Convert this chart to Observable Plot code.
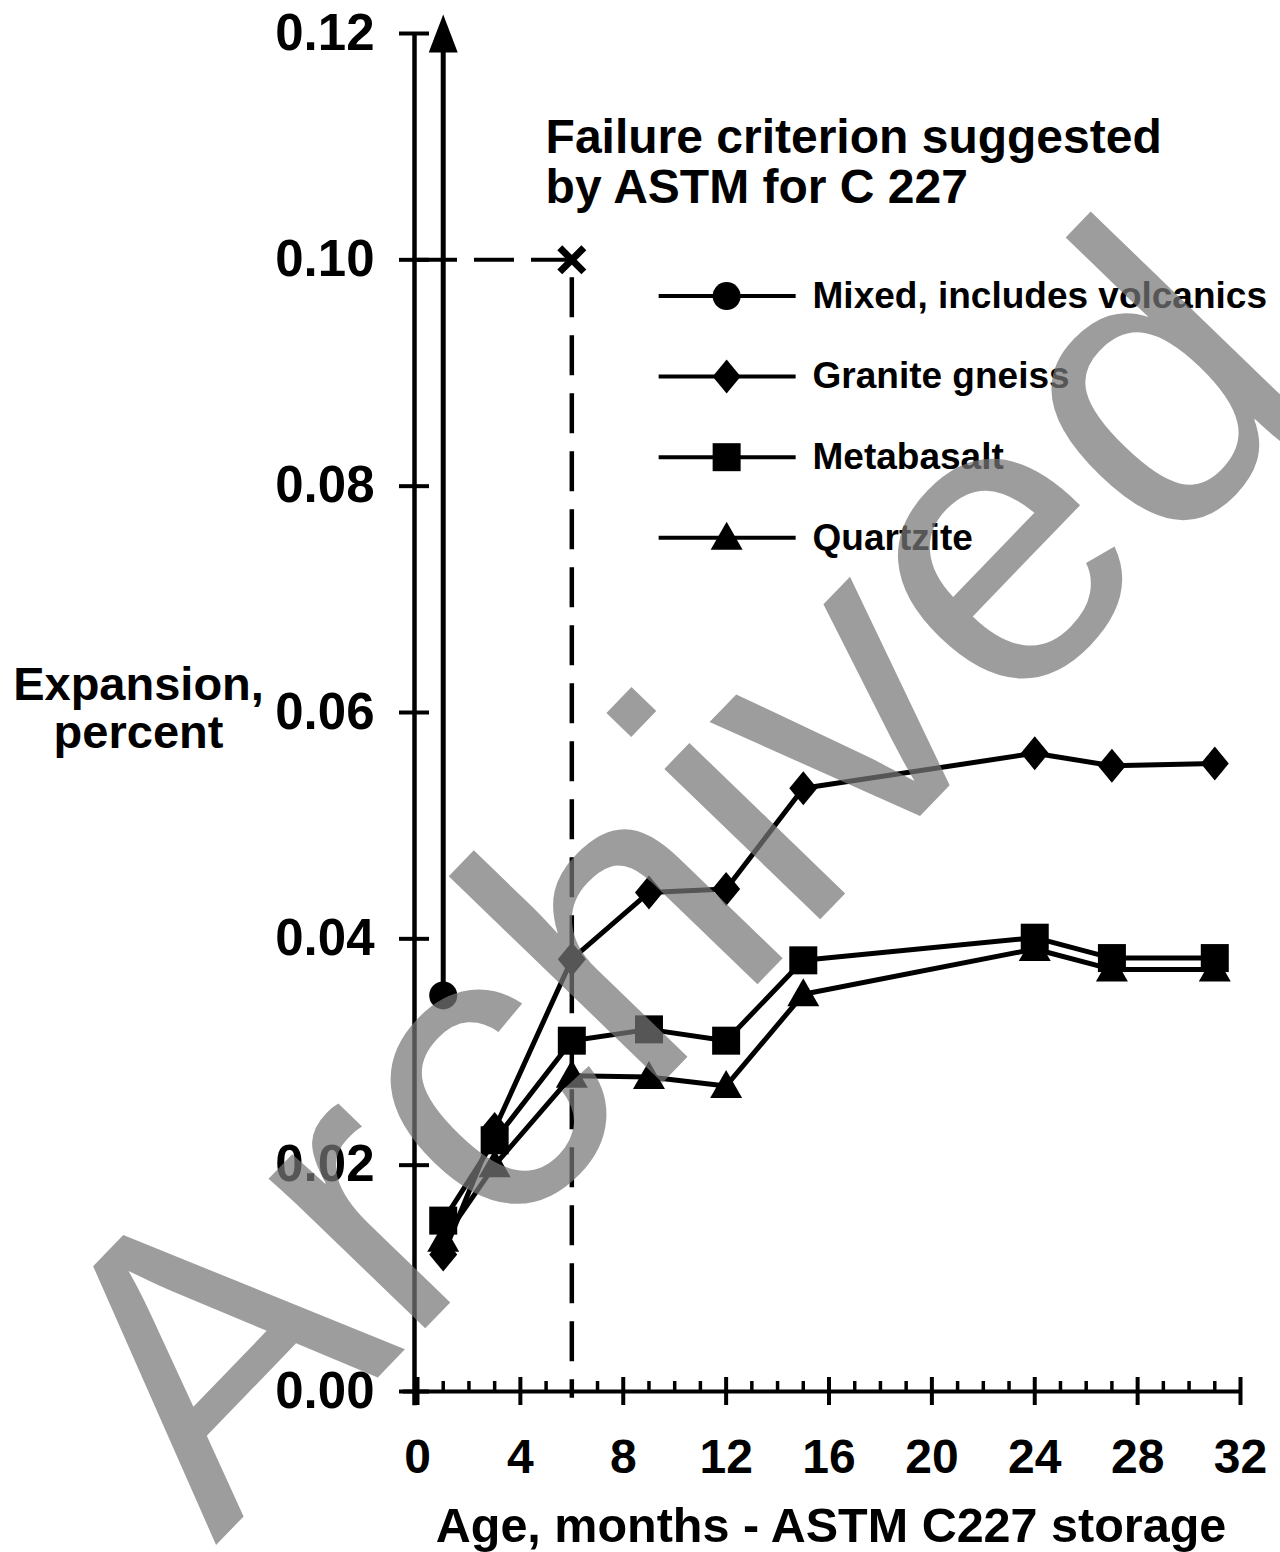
<!DOCTYPE html>
<html>
<head>
<meta charset="utf-8">
<script src="https://cdn.jsdelivr.net/npm/d3@7"></script>
<script src="https://cdn.jsdelivr.net/npm/@observablehq/plot@0.6"></script>
<style>
html, body { margin: 0; padding: 0; background: #fff; }
#chart { width: 1280px; height: 1552px; overflow: hidden; }
</style>
</head>
<body>
<div id="chart"></div>
<script>
// ---------- data ----------
const months = [1, 3, 6, 9, 12, 15, 24, 27, 31];
const graniteGneiss = [0.0121, 0.0232, 0.0382, 0.0441, 0.0444, 0.0533, 0.0564, 0.0553, 0.0555];
const metabasalt    = [0.0151, 0.0222, 0.0310, 0.0320, 0.0310, 0.0381, 0.0401, 0.0383, 0.0383];
const quartzite     = [0.0134, 0.0200, 0.0279, 0.0278, 0.0270, 0.0351, 0.0391, 0.0373, 0.0373];
const mixedMonths = [1];
const mixedVolcanics = [0.035];
const mixedArrowTop = [0.12];

const seriesNames = ["Mixed, includes volcanics", "Granite gneiss", "Metabasalt", "Quartzite"];

const xMajorTicks = [0, 4, 8, 12, 16, 20, 24, 28, 32];
const xMinorTicks = d3.range(0, 33).filter(d => d % 4 !== 0);
const yTicks = [0, 0.02, 0.04, 0.06, 0.08, 0.10, 0.12];

const failureLevel = [0.10];
const failureMonth = [6];
const annotationLines = ["Failure criterion suggested", "by ASTM for C 227"];
const yTitleLines = ["Expansion,", "percent"];
const xTitle = "Age, months - ASTM C227 storage";
const watermark = "Archived";

// ---------- tables built from the arrays ----------
const rows = [];
months.forEach((m, i) => {
  rows.push({series: seriesNames[1], month: m, value: graniteGneiss[i]});
  rows.push({series: seriesNames[2], month: m, value: metabasalt[i]});
  rows.push({series: seriesNames[3], month: m, value: quartzite[i]});
});
const mixedRows = mixedMonths.map((m, i) => ({series: seriesNames[0], month: m, value: mixedVolcanics[i], top: mixedArrowTop[i]}));
const failure = failureMonth.map((m, i) => ({month: m, level: failureLevel[i]}));

// ---------- marker shapes (style) ----------
const diamondSym = {draw(c) { c.moveTo(0, -17); c.lineTo(14, 0); c.lineTo(0, 17); c.lineTo(-14, 0); c.closePath(); }};
const squareSym = {draw(c) { c.moveTo(-14, -14); c.lineTo(14, -14); c.lineTo(14, 14); c.lineTo(-14, 14); c.closePath(); }};
const triangleSym = {draw(c) { c.moveTo(0, -16); c.lineTo(16, 12); c.lineTo(-16, 12); c.closePath(); }};
const arrowHeadSym = {draw(c) { c.moveTo(0, -19); c.lineTo(14.5, 19); c.lineTo(-14.5, 19); c.closePath(); }};
const legendLineSym = {draw(c) { c.moveTo(-68, 0); c.lineTo(69, 0); }};

const symbolOf = {
  [seriesNames[0]]: {symbol: "circle", r: 14},
  [seriesNames[1]]: {symbol: diamondSym, r: 14},
  [seriesNames[2]]: {symbol: squareSym, r: 14},
  [seriesNames[3]]: {symbol: triangleSym, r: 14}
};

// legend layout (in chart units)
const legendLayout = {markerX: 12.02, textX: 15.36, top: 0.0968, step: 0.00712};
const legendRows = seriesNames.map((s, i) => ({series: s, ly: legendLayout.top - i * legendLayout.step}));

const font = "'Liberation Sans', Arial, Helvetica, sans-serif";

const marks = [
  // axes lines
  Plot.ruleY([0], {x1: -0.55, x2: 32, strokeWidth: 4}),
  Plot.ruleX([0], {y1: -0.00125, y2: 0.12, strokeWidth: 4.5, dx: -3}),
  Plot.axisY(yTicks, {tickSize: 30, dx: 12, tickPadding: 25, tickFormat: d3.format(".2f"),
    fontSize: 51, fontWeight: "bold", strokeWidth: 4, label: null}),
  Plot.axisX(xMajorTicks, {tickSize: 28, dy: -14, tickPadding: 33, fontSize: 48, fontWeight: "bold",
    strokeWidth: 4, label: null}),
  Plot.axisX(xMinorTicks, {tickSize: 10, dy: -10, fill: "none", strokeWidth: 3.5, label: null}),

  // failure criterion
  Plot.ruleY(failure, {y: "level", x1: 0, x2: "month", strokeWidth: 4, strokeDasharray: "40,17"}),
  Plot.ruleX(failure, {x: "month", y1: "level", y2: -0.0006, strokeWidth: 4.5, strokeDasharray: "40,18", strokeDashoffset: 40}),
  Plot.dot(failure, {x: "month", y: "level", symbol: "times", r: 11, stroke: "black", strokeWidth: 7}),

  // mixed (with upward arrow)
  Plot.ruleX(mixedRows, {x: "month", y1: "value", y2: "top", strokeWidth: 5}),
  Plot.dot(mixedRows, {x: "month", y: "top", symbol: arrowHeadSym, fill: "black", stroke: "none"}),
  Plot.dot(mixedRows, {x: "month", y: "value", symbol: "circle", r: 14, fill: "black", stroke: "none"}),

  // series lines
  Plot.line(rows, {x: "month", y: "value", z: "series", stroke: "black", strokeWidth: 5, strokeLinejoin: "round"}),
  ...seriesNames.slice(1).map(s => Plot.dot(rows.filter(d => d.series === s),
      {x: "month", y: "value", symbol: symbolOf[s].symbol, r: symbolOf[s].r, fill: "black", stroke: "none"})),

  // legend
  ...legendRows.map(d => Plot.dot([d], {x: legendLayout.markerX, y: "ly", symbol: legendLineSym, stroke: "black", strokeWidth: 4, fill: "none"})),
  ...legendRows.map(d => Plot.dot([d], {x: legendLayout.markerX, y: "ly", symbol: symbolOf[d.series].symbol, r: symbolOf[d.series].r, fill: "black", stroke: "none"})),
  Plot.text(legendRows, {x: legendLayout.textX, y: "ly", text: "series", textAnchor: "start", lineAnchor: "middle",
    fontSize: 37, fontWeight: "bold", fill: "black"}),

  // annotation
  Plot.text([annotationLines.join("\n")], {x: 4.98, y: 0.1126, text: d => d, textAnchor: "start", lineAnchor: "top",
    fontSize: 48, fontWeight: "bold", lineHeight: 1.04, fill: "black"}),

  // axis titles
  Plot.text([yTitleLines.join("\n")], {frameAnchor: "left", text: d => d, dx: -279, dy: -4, textAnchor: "middle",
    lineAnchor: "middle", fontSize: 47, fontWeight: "bold", lineHeight: 1.02, fill: "black"}),
  Plot.text([xTitle], {frameAnchor: "bottom", text: d => d, dx: 2, dy: 150, lineAnchor: "bottom",
    fontSize: 48.5, fontWeight: "bold", fill: "black"}),

  // watermark
  Plot.text([watermark], {frameAnchor: "top-left", text: d => d, dx: -202, dy: 1512, rotate: -46,
    textAnchor: "start", lineAnchor: "bottom", fontSize: 410, fontWeight: "normal", fill: "#777", fillOpacity: 0.72})
];

const chart = Plot.plot({
  width: 1280,
  height: 1552,
  marginLeft: 417,
  marginRight: 40,
  marginTop: 33,
  marginBottom: 161,
  x: {domain: [0, 32]},
  y: {domain: [0, 0.12]},
  style: {fontFamily: font, background: "#fff", color: "#000"},
  marks
});
document.getElementById("chart").appendChild(chart);
</script>
</body>
</html>
